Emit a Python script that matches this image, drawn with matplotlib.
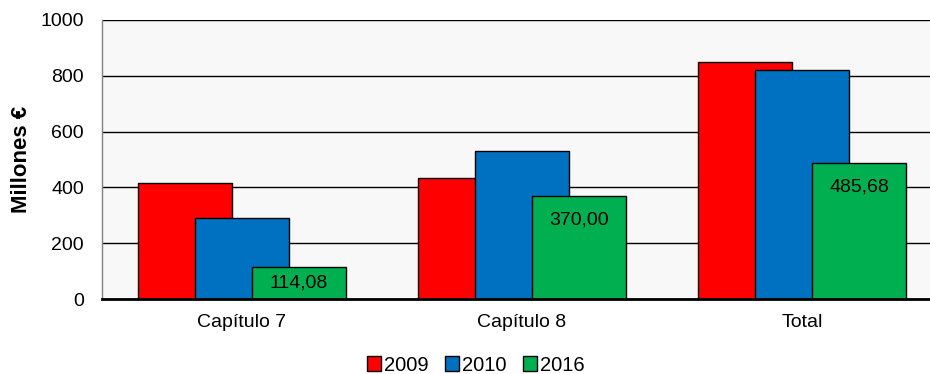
import matplotlib.pyplot as plt
import numpy as np

categories = ["Capítulo 7", "Capítulo 8", "Total"]
years = ["2009", "2010", "2016"]
v2009 = [416, 432, 848]
v2010 = [290, 532, 820]
v2016 = [114.08, 370.00, 485.68]
series = [v2009, v2010, v2016]
colors = ["#FF0000", "#0070C0", "#00B050"]

plt.rcParams['font.family'] = ['Liberation Sans', 'DejaVu Sans']

fig = plt.figure(figsize=(9.3, 3.74), dpi=100)
# plot area in pixels: left 102, top 20, bottom 299; right runs past the image edge
ax = fig.add_axes([102 / 930, (374 - 299) / 374, 1 - 102 / 930, 279 / 374])
ax.set_facecolor('#F8F8F8')

x = np.arange(len(categories))
width = 0.339
step = 0.2036
bars = []
for i, (vals, col, yr) in enumerate(zip(series, colors, years)):
    b = ax.bar(x + (i - 1) * step, vals, width, color=col, edgecolor='black',
               linewidth=1.0, label=yr, zorder=3 + i)
    bars.append(b)

# value labels inside the 2016 bars
px_per_unit = 279 / 1000
for rect, v in zip(bars[2], v2016):
    h_px = v * px_per_unit
    off = min(24, h_px / 2)
    ax.annotate(f"{v:.2f}".replace('.', ','),
                xy=(rect.get_x() + rect.get_width() / 2, v),
                xytext=(0, -off * 72 / 100), textcoords='offset points',
                ha='center', va='center', fontsize=14, color='black', zorder=10)

ax.set_ylim(0, 1000)
ax.set_xlim(-0.5, 2.5 - 12 / 280)
ax.set_yticks(range(0, 1001, 200))
ax.yaxis.grid(True, color='black', linewidth=1.0, zorder=0)
ax.set_axisbelow(True)
ax.set_xticks(x)
ax.set_xticklabels(categories, fontsize=14)
ax.tick_params(axis='y', labelsize=14, length=0, pad=13)
ax.tick_params(axis='x', length=0, pad=11)

for s in ['top', 'right']:
    ax.spines[s].set_visible(False)
ax.spines['left'].set_color('#808080')
ax.spines['left'].set_linewidth(1.0)
ax.spines['bottom'].set_color('black')
ax.spines['bottom'].set_linewidth(2.0)
ax.spines['bottom'].set_zorder(8)

ax.set_ylabel("Millones €", fontsize=16, fontweight='bold', labelpad=6)

fig.legend(loc='lower center', bbox_to_anchor=(476 / 930, -0.05), ncol=3,
           frameon=False, fontsize=14.5, handlelength=0.7, handleheight=0.7,
           handletextpad=0.15, columnspacing=0.8)

fig.savefig("out.png", dpi=100)
